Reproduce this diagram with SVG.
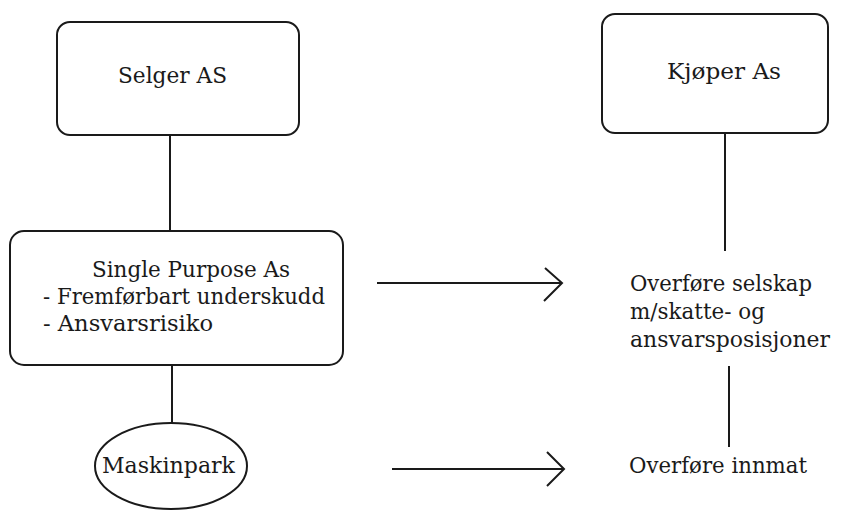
<svg xmlns="http://www.w3.org/2000/svg" width="847" height="510" viewBox="0 0 847 510">
<style>
.box{fill:#fff;stroke:#1a1a1a;stroke-width:2}
.ln{fill:none;stroke:#1a1a1a;stroke-width:2}
.t{font-family:'DejaVu Serif','Liberation Serif',serif;font-size:23px;fill:#1a1a1a}
</style>
<rect width="847" height="510" fill="#fff"/>
<g id="connectors">
<line class="ln" x1="170" y1="135" x2="170" y2="231"/>
<line class="ln" x1="725" y1="133" x2="725" y2="251"/>
<line class="ln" x1="729" y1="366" x2="729" y2="447"/>
<line class="ln" x1="172" y1="365" x2="172" y2="423"/>
<path class="ln" d="M377 283H562M545 268L562 283L544 301"/>
<path class="ln" d="M392 469H564M547 452L564 469L547 486"/>
</g>
<g id="selger">
<rect class="box" x="57" y="22" width="242" height="113" rx="13"/>
<text class="t" x="118" y="83" textLength="109" lengthAdjust="spacingAndGlyphs">Selger AS</text>
</g>
<g id="kjoper">
<rect class="box" x="602" y="14" width="226" height="119" rx="13"/>
<text class="t" x="667" y="79" textLength="114" lengthAdjust="spacingAndGlyphs">Kjøper As</text>
</g>
<g id="spv">
<rect class="box" x="10" y="231" width="333" height="134" rx="14"/>
<text class="t" x="92" y="277" textLength="198" lengthAdjust="spacingAndGlyphs">Single Purpose As</text>
<text class="t" x="43" y="304" textLength="282" lengthAdjust="spacingAndGlyphs">- Fremførbart underskudd</text>
<text class="t" x="43" y="331" textLength="170" lengthAdjust="spacingAndGlyphs">- Ansvarsrisiko</text>
</g>
<g id="overfore-selskap">
<text class="t" x="630" y="291" textLength="182" lengthAdjust="spacingAndGlyphs">Overføre selskap</text>
<text class="t" x="630" y="319" textLength="135" lengthAdjust="spacingAndGlyphs">m/skatte- og</text>
<text class="t" x="630" y="347" textLength="200" lengthAdjust="spacingAndGlyphs">ansvarsposisjoner</text>
</g>
<g id="maskinpark">
<ellipse class="box" cx="171" cy="466" rx="76" ry="43"/>
<text class="t" x="102" y="473" textLength="133" lengthAdjust="spacingAndGlyphs">Maskinpark</text>
</g>
<g id="overfore-innmat">
<text class="t" x="629" y="473" textLength="178" lengthAdjust="spacingAndGlyphs">Overføre innmat</text>
</g>
</svg>
